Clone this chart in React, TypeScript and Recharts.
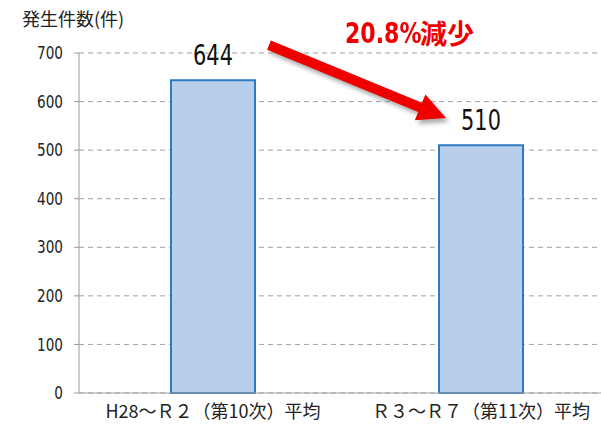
import { BarChart, Bar, XAxis, YAxis, CartesianGrid, LabelList, ReferenceLine } from "recharts";

const periods = ["H28～Ｒ２（第10次）平均", "Ｒ３～Ｒ７（第11次）平均"];
const counts = [644, 510];
const yTicks = [0, 100, 200, 300, 400, 500, 600, 700];
// arrow annotation: value levels at its tail and head
const arrowFrom = 716;
const arrowTo = 566;

const data = periods.map((p, i) => ({ period: p, count: counts[i] }));

const numFont = "'DejaVu Sans', sans-serif";
const jpFont = "'Noto Sans CJK JP', sans-serif";

// narrow digits, like the condensed face in the original
function YTick(props: any) {
  const { x, y, payload } = props;
  return (
    <text
      transform={`translate(${x},${y}) scale(0.8,1)`}
      textAnchor="end"
      dy="0.36em"
      fontSize={17}
      fontFamily={numFont}
      fill="#222"
    >
      {payload.value}
    </text>
  );
}

function BarValue(props: any) {
  const { x, y, width, value } = props;
  return (
    <text
      transform={`translate(${x + width / 2},${y - 15}) scale(0.72,1)`}
      textAnchor="middle"
      fontSize={29}
      fontFamily={numFont}
      fill="#111"
    >
      {value}
    </text>
  );
}

function Arrow(props: any) {
  const { x1, y1, x2, y2 } = props;
  const sx = x1 + 56;
  const ex = x2 - 35;
  const dx = ex - sx;
  const dy = y2 - y1;
  const len = Math.sqrt(dx * dx + dy * dy);
  const ux = dx / len;
  const uy = dy / len;
  const nx = -uy;
  const ny = ux;
  const hw = 5;
  const headLen = 28;
  const headW = 14;
  const bx = sx + ux * (len - headLen);
  const by = y1 + uy * (len - headLen);
  const pts = [
    [sx + nx * hw, y1 + ny * hw],
    [bx + nx * hw, by + ny * hw],
    [bx + nx * headW, by + ny * headW],
    [ex, y2],
    [bx - nx * headW, by - ny * headW],
    [bx - nx * hw, by - ny * hw],
    [sx - nx * hw, y1 - ny * hw],
  ];
  const d = pts.map((p) => p.join(",")).join(" ");
  const shadow = pts.map((p) => [p[0] + 3, p[1] + 4].join(",")).join(" ");
  return (
    <g>
      <defs>
        <filter id="blur" x="-20%" y="-20%" width="140%" height="140%">
          <feGaussianBlur stdDeviation="2" />
        </filter>
      </defs>
      <polygon points={shadow} fill="#777" opacity={0.6} filter="url(#blur)" />
      <polygon points={d} fill="#EE0000" />
    </g>
  );
}

export default function App() {
  return (
    <div style={{ position: "absolute", left: 0, top: 0, width: 601, height: 432, overflow: "hidden", background: "#fff" }}>
      <BarChart width={615} height={432} data={data} margin={{ top: 53, right: 0, bottom: 0, left: 0 }}>
        <CartesianGrid vertical={false} stroke="#a0a0a0" strokeDasharray="5 4" />
        <XAxis
          dataKey="period"
          height={39}
          stroke="#a0a0a0"
          tickLine={false}
          tick={{ fill: "#222", fontSize: 18, fontFamily: jpFont }}
          tickMargin={6}
        />
        <YAxis width={79} domain={[0, 700]} ticks={yTicks} stroke="#999" tickSize={5} tickMargin={11} tick={<YTick />} />
        <Bar dataKey="count" barSize={84} fill="#B8CFEC" stroke="#2E7BC4" strokeWidth={2} isAnimationActive={false}>
          <LabelList dataKey="count" content={<BarValue />} />
        </Bar>
        <ReferenceLine
          segment={[{ x: periods[0], y: arrowFrom }, { x: periods[1], y: arrowTo }]}
          ifOverflow="visible"
          shape={Arrow}
        />
      </BarChart>
      <div style={{ position: "absolute", left: 22, top: 5, fontSize: 18, fontFamily: jpFont, color: "#222" }}>発生件数(件)</div>
      <div
        style={{
          position: "absolute",
          left: 345,
          top: 16,
          fontSize: 29,
          lineHeight: "34px",
          fontWeight: "bold",
          fontFamily: numFont,
          color: "#EE0000",
          transform: "scaleX(0.76)",
          transformOrigin: "left",
          whiteSpace: "nowrap",
        }}
      >
        20.8%
      </div>
      <div
        style={{
          position: "absolute",
          left: 420,
          top: 16,
          fontSize: 27,
          lineHeight: "34px",
          fontWeight: "bold",
          fontFamily: jpFont,
          color: "#EE0000",
          whiteSpace: "nowrap",
        }}
      >
        減少
      </div>
    </div>
  );
}
